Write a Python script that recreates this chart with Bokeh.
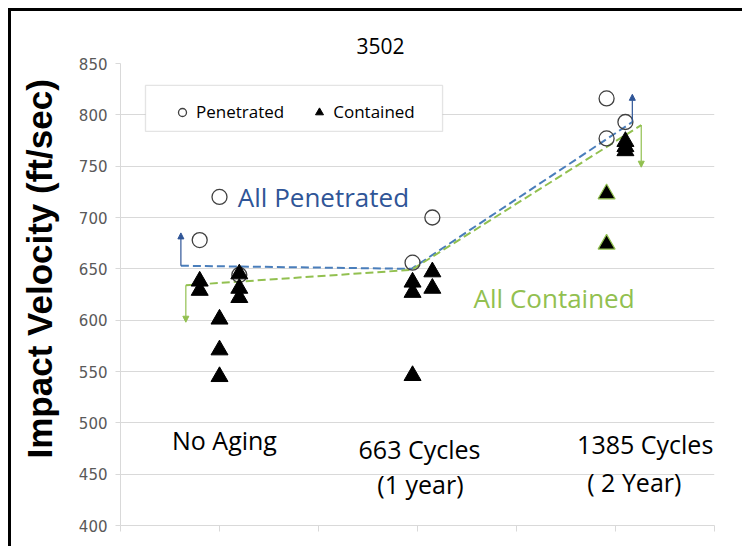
from bokeh.plotting import figure
from bokeh.models import (Range1d, FixedTicker, Label, Arrow, NormalHead, Legend,
                          LegendItem, BoxAnnotation, ColumnDataSource, Title)
from bokeh.embed import file_html
from bokeh.resources import INLINE

# ---------------- data ----------------
title_text = "3502"
y_title = "Impact Velocity (ft/sec)"
y_ticks = [400, 450, 500, 550, 600, 650, 700, 750, 800, 850]

group_labels = ["No Aging", "663 Cycles", "1385 Cycles"]
group_label_x = [1.05, 3.02, 5.30]
group_sub_labels = ["(1 year)", "( 2 Year)"]
group_sub_x = [3.03, 5.19]

pen_x = [0.8, 1.0, 1.2, 2.95, 3.15, 4.91, 4.91, 5.10]
pen_y = [678, 720, 644, 656, 700, 816, 777, 793]

con_x = [0.8, 0.8, 1.0, 1.0, 1.0, 1.2, 1.2, 1.2, 2.95, 2.95, 2.95, 3.15, 3.15, 5.10, 5.10, 5.10]
con_y = [638, 629, 601, 571, 545, 645, 631, 622, 637, 627, 546, 647, 631, 774, 769, 765]
con_green_x = [4.91, 4.91]
con_green_y = [723, 674]

pen_line_x = [0.61, 2.94, 5.17]
pen_line_y = [653, 650, 793]
con_line_x = [0.66, 2.94, 5.26]
con_line_y = [634, 649, 790]

pen_arrow_x = [0.61, 5.17]
pen_arrow_from = [653, 793]
pen_arrow_to = [685, 820]
con_arrow_x = [0.66, 5.26]
con_arrow_from = [634, 790]
con_arrow_to = [598, 749]

# ---------------- styles ----------------
BLUE_TXT = "#2F5597"
BLUE_LINE = "#4A7EBB"
GREEN = "#92C050"
GRID = "#D9D9D9"
FONT = "Open Sans"

p = figure(frame_width=594, frame_height=462,
           min_border_left=120, min_border_right=28, min_border_top=63, min_border_bottom=21,
           x_range=Range1d(0, 6), y_range=Range1d(400, 850),
           output_backend="svg", toolbar_location=None, title=title_text)
# black frame of the picture (top and left edges), drawn as CSS background
p.styles = {
    "background-color": "white",
    "background-image": "linear-gradient(#000, #000), linear-gradient(#000, #000)",
    "background-size": "3px 100%, 100% 3px",
    "background-position": "8px 8px, 8px 8px",
    "background-repeat": "no-repeat",
}
p.border_fill_alpha = 0
p.outline_line_color = None
p.background_fill_color = "white"

p.title.align = "left"
p.title.offset = 236
p.title.standoff = 20
p.title.text_font = FONT
p.title.text_font_size = "21px"
p.title.text_font_style = "normal"
p.title.text_color = "black"

p.add_layout(Title(text=y_title, align="left", offset=67, standoff=32,
                   vertical_align="middle", text_font="Liberation Sans",
                   text_font_size="35px", text_font_style="bold", text_color="black"),
             "left")

p.xgrid.visible = False
p.ygrid.grid_line_color = GRID
p.ygrid.ticker = FixedTicker(ticks=y_ticks)
p.yaxis.ticker = FixedTicker(ticks=y_ticks)
p.yaxis.axis_line_color = GRID
p.yaxis.major_tick_line_color = GRID
p.yaxis.major_tick_out = 5
p.yaxis.major_tick_in = 0
p.yaxis.minor_tick_line_color = None
p.yaxis.major_label_text_font = "DejaVu Sans"
p.yaxis.major_label_text_font_size = "15px"
p.yaxis.major_label_text_color = "#595959"
p.yaxis.major_label_standoff = 8

p.xaxis.ticker = FixedTicker(ticks=[0, 1, 2, 3, 4, 5, 6])
p.xaxis.axis_line_color = GRID
p.xaxis.major_tick_line_color = GRID
p.xaxis.major_tick_out = 6
p.xaxis.major_tick_in = 0
p.xaxis.minor_tick_line_color = None
p.xaxis.major_label_overrides = {i: "" for i in range(7)}
p.xaxis.major_label_text_font_size = "1px"
p.xaxis.major_label_standoff = 0

# lines
p.line(pen_line_x, pen_line_y, line_color=BLUE_LINE, line_width=2, line_dash="8 4")
p.line(con_line_x, con_line_y, line_color=GREEN, line_width=2, line_dash="8 4")

# arrows
src_pa = ColumnDataSource(dict(x=pen_arrow_x, y0=pen_arrow_from, y1=pen_arrow_to))
p.add_layout(Arrow(end=NormalHead(size=6, fill_color=BLUE_TXT, line_color=BLUE_TXT),
                   x_start="x", y_start="y0", x_end="x", y_end="y1", source=src_pa,
                   line_color=BLUE_TXT, line_width=1.2))
src_ca = ColumnDataSource(dict(x=con_arrow_x, y0=con_arrow_from, y1=con_arrow_to))
p.add_layout(Arrow(end=NormalHead(size=6, fill_color=GREEN, line_color=GREEN),
                   x_start="x", y_start="y0", x_end="x", y_end="y1", source=src_ca,
                   line_color=GREEN, line_width=1.2))

# markers
r_pen = p.scatter(pen_x, pen_y, marker="circle", size=15, fill_color=None,
                  line_color="#404040", line_width=1.3)
r_con = p.scatter(con_x, con_y, marker="triangle", size=17, fill_color="black",
                  line_color="black")
p.scatter(con_green_x, con_green_y, marker="triangle", size=17, fill_color="black",
          line_color=GREEN, line_width=1.2)

# legend frame + legend
p.add_layout(BoxAnnotation(left=0.2525, right=3.253, top=828.6, bottom=783.8,
                           fill_color="white", fill_alpha=1, line_color="#A6A6A6",
                           line_width=1.3, level="annotation"))
legend = Legend(items=[LegendItem(label="Penetrated", renderers=[r_pen]),
                       LegendItem(label="Contained", renderers=[r_con])],
                orientation="horizontal", location=(52, 402), padding=0, margin=0,
                spacing=25, glyph_width=20, glyph_height=20, label_standoff=4,
                border_line_alpha=0, background_fill_alpha=0,
                label_text_font=FONT, label_text_font_size="17px",
                label_text_color="black")
p.add_layout(legend, "center")

# texts
p.add_layout(Label(x=2.05, y=719.5, text="All Penetrated", text_align="center",
                   text_baseline="middle", text_font=FONT, text_font_size="26px",
                   text_color=BLUE_TXT))
p.add_layout(Label(x=4.38, y=621.6, text="All Contained", text_align="center",
                   text_baseline="middle", text_font=FONT, text_font_size="26px",
                   text_color=GREEN))

label_y = [483, 475, 479]
for name, gx, gy in zip(group_labels, group_label_x, label_y):
    p.add_layout(Label(x=gx, y=gy, text=name, text_align="center", text_baseline="middle",
                       text_font=FONT, text_font_size="25px", text_color="black"))
sub_y = [440, 442]
for name, gx, gy in zip(group_sub_labels, group_sub_x, sub_y):
    p.add_layout(Label(x=gx, y=gy, text=name, text_align="center", text_baseline="middle",
                       text_font=FONT, text_font_size="25px", text_color="black"))

open("out.html", "w").write(file_html(p, INLINE))
